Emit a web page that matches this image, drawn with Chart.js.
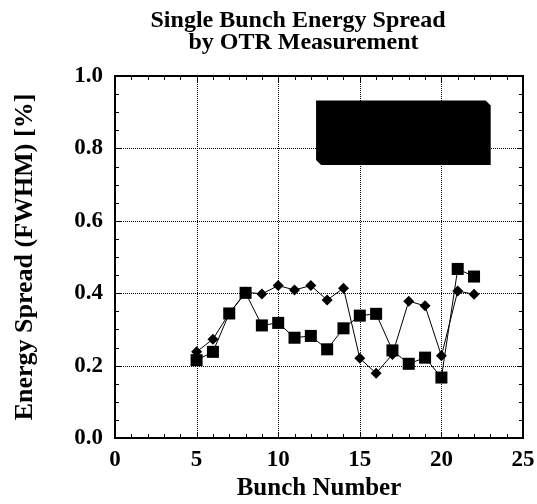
<!DOCTYPE html>
<html>
<head>
<meta charset="utf-8">
<script src="https://cdn.jsdelivr.net/npm/chart.js@4/dist/chart.umd.min.js"></script>
<style>
html,body{margin:0;padding:0;background:#fff;}
#wrap{width:537px;height:504px;}
</style>
</head>
<body>
<div id="wrap"><canvas id="c" width="537" height="504"></canvas></div>
<script>
const titleLines = ["Single Bunch Energy Spread", "by OTR Measurement"];
const xAxisTitle = "Bunch Number";
const yAxisTitle = "Energy Spread (FWHM) [%]";
const bunchNumbers = [5,6,7,8,9,10,11,12,13,14,15,16,17,18,19,20,21,22];
const seriesDiamond = [0.238,0.273,0.344,0.403,0.398,0.421,0.409,0.421,0.381,0.414,0.220,0.179,0.231,0.378,0.365,0.227,0.406,0.397];
const seriesSquare = [0.215,0.238,0.344,0.401,0.311,0.318,0.277,0.282,0.245,0.303,0.338,0.343,0.242,0.205,0.222,0.167,0.467,0.446];
const xTicks = [0,5,10,15,20,25];
const yTicks = [0.0,0.2,0.4,0.6,0.8,1.0];
// redacted legend box (data units: x from, x to, y from, y to)
const legendBoxX = [12.32, 23.02];
const legendBoxY = [0.754, 0.932];

const FONT = "'Liberation Serif', 'Times New Roman', serif";

function toPoints(xs, ys){ return xs.map((x,i)=>({x:x, y:ys[i]})); }

const framePlugin = {
  id: 'frameTicks',
  beforeDatasetsDraw(chart){
    const {ctx, chartArea:a, scales:{x, y}} = chart;
    ctx.save();
    ctx.strokeStyle = '#000';
    ctx.lineWidth = 1;
    ctx.setLineDash([1,1]);
    xTicks.forEach(v=>{
      if (v<=x.min || v>=x.max) return;
      const px = Math.round(x.getPixelForValue(v))+0.5;
      ctx.beginPath(); ctx.moveTo(px, a.top); ctx.lineTo(px, a.bottom); ctx.stroke();
    });
    yTicks.forEach(v=>{
      if (v<=y.min || v>=y.max) return;
      const py = Math.round(y.getPixelForValue(v))+0.5;
      ctx.beginPath(); ctx.moveTo(a.left, py); ctx.lineTo(a.right, py); ctx.stroke();
    });
    ctx.restore();
  },
  afterDatasetsDraw(chart){
    const {ctx, chartArea:a, scales:{x, y}} = chart;
    ctx.save();
    ctx.strokeStyle = '#000';
    ctx.setLineDash([]);
    ctx.lineWidth = 1;
    for (let v = x.min; v <= x.max + 1e-9; v += 1){
      const px = Math.round(x.getPixelForValue(v))+0.5;
      const len = (v % 5 === 0) ? 6 : 4;
      ctx.beginPath();
      ctx.moveTo(px, a.bottom); ctx.lineTo(px, a.bottom - len);
      ctx.moveTo(px, a.top); ctx.lineTo(px, a.top + len);
      ctx.stroke();
    }
    for (let i = 0; i <= 20; i++){
      const v = i*0.05;
      const py = Math.round(y.getPixelForValue(v))+0.5;
      const len = (i % 4 === 0) ? 6 : 4;
      ctx.beginPath();
      ctx.moveTo(a.left, py); ctx.lineTo(a.left + len, py);
      ctx.moveTo(a.right, py); ctx.lineTo(a.right - len, py);
      ctx.stroke();
    }
    ctx.lineWidth = 2;
    ctx.strokeRect(a.left, a.top, a.right - a.left, a.bottom - a.top);
    ctx.restore();
  },
  afterDraw(chart){
    const {ctx, scales:{x, y}} = chart;
    ctx.save();
    const l = x.getPixelForValue(legendBoxX[0]), r = x.getPixelForValue(legendBoxX[1]);
    const t = y.getPixelForValue(legendBoxY[1]), b = y.getPixelForValue(legendBoxY[0]);
    const c = 5;
    ctx.fillStyle = '#000';
    ctx.beginPath();
    ctx.moveTo(l, t); ctx.lineTo(r - c, t); ctx.lineTo(r, t + c);
    ctx.lineTo(r, b); ctx.lineTo(l + c, b); ctx.lineTo(l, b - c);
    ctx.closePath(); ctx.fill();
    ctx.fillStyle = '#000';
    ctx.font = "bold 24px " + FONT;
    ctx.textAlign = 'center';
    ctx.textBaseline = 'alphabetic';
    ctx.fillText(titleLines[0], 298, 27);
    ctx.fillText(titleLines[1], 303.5, 49);
    ctx.restore();
  }
};

new Chart(document.getElementById('c'), {
  type: 'scatter',
  data: {
    datasets: [
      {
        label: 'A',
        data: toPoints(bunchNumbers, seriesDiamond),
        showLine: true,
        borderColor: '#000',
        backgroundColor: '#000',
        borderWidth: 1,
        pointStyle: 'rectRot',
        pointRadius: 5.5,
        pointBorderWidth: 0,
        pointBackgroundColor: '#000',
        tension: 0
      },
      {
        label: 'B',
        data: toPoints(bunchNumbers, seriesSquare),
        showLine: true,
        borderColor: '#000',
        backgroundColor: '#000',
        borderWidth: 1,
        pointStyle: 'rect',
        pointRadius: 8.5,
        pointBorderWidth: 0,
        pointBackgroundColor: '#000',
        tension: 0
      }
    ]
  },
  options: {
    responsive: false,
    animation: false,
    devicePixelRatio: 1,
    layout: { padding: { top: 76, right: 14, bottom: 0, left: 0 } },
    plugins: {
      legend: { display: false },
      title: { display: false },
      tooltip: { enabled: false }
    },
    scales: {
      x: {
        type: 'linear',
        min: 0, max: 25,
        afterBuildTicks(s){ s.ticks = xTicks.map(v=>({value:v})); },
        afterFit(s){ s.height = 504 - 438; s.paddingLeft = 0; s.paddingRight = 0; },
        grid: { display: false, drawTicks: false },
        border: { display: false },
        ticks: {
          color: '#000',
          padding: 8,
          font: { family: FONT, size: 23, weight: 'bold' },
          callback: v => String(v)
        },
        title: {
          display: true, text: xAxisTitle, color: '#000',
          font: { family: FONT, size: 25, weight: 'bold' },
          padding: { top: 0, bottom: 0 }
        }
      },
      y: {
        type: 'linear',
        min: 0, max: 1,
        afterBuildTicks(s){ s.ticks = yTicks.map(v=>({value:v})); },
        afterFit(s){ s.width = 115; s.paddingTop = 0; s.paddingBottom = 0; },
        grid: { display: false, drawTicks: false },
        border: { display: false },
        ticks: {
          color: '#000',
          padding: 12,
          font: { family: FONT, size: 23, weight: 'bold' },
          callback: v => Number(v).toFixed(1)
        },
        title: {
          display: true, text: yAxisTitle, color: '#000',
          font: { family: FONT, size: 26, weight: 'bold' },
          padding: { top: 10, bottom: 0 }
        }
      }
    }
  },
  plugins: [framePlugin]
});
</script>
</body>
</html>
